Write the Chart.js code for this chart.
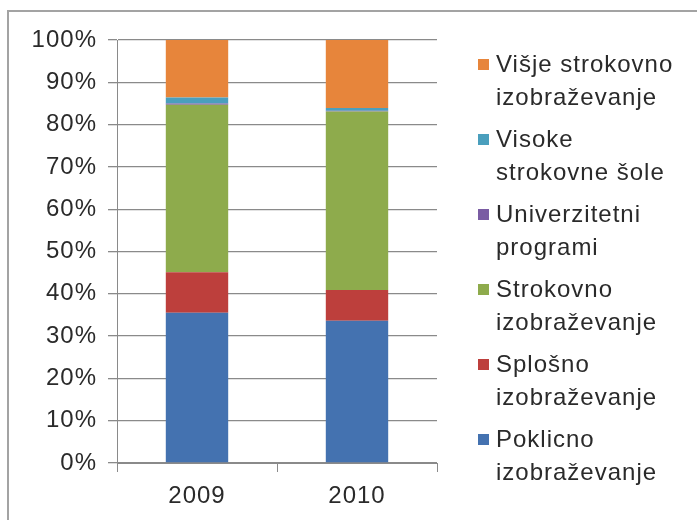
<!DOCTYPE html>
<html>
<head>
<meta charset="utf-8">
<script src="https://cdn.jsdelivr.net/npm/chart.js@4"></script>
<style>
  html, body { margin: 0; padding: 0; background: #fff; }
</style>
</head>
<body>
<canvas id="myChart" width="697" height="520"></canvas>
<script>
const years = ['2009', '2010'];
const poklicno = [35.5, 33.6];
const splosno = [9.6, 7.3];
const strokovno = [39.6, 42.2];
const univerzitetni = [0.3, 0.2];
const visokeSole = [1.4, 0.6];
const visjeStrokovno = [13.6, 16.1];

const fam = '"Liberation Sans", Arial, sans-serif';
const gridc = '#8a8a8a';
const txt = '#2a2a2a';

// legend lines (two lines per entry, top entry first in drawing)
const legendNames = [
  ['Poklicno', 'izobraževanje'],
  ['Splošno', 'izobraževanje'],
  ['Strokovno', 'izobraževanje'],
  ['Univerzitetni', 'programi'],
  ['Visoke', 'strokovne šole'],
  ['Višje strokovno', 'izobraževanje']
];

const spacing = {
  id: 'spacing',
  beforeUpdate(chart) { chart.ctx.letterSpacing = '1px'; },
  beforeDraw(chart) {
    const c = chart.ctx;
    c.save();
    c.strokeStyle = '#a3a3a3';
    c.lineWidth = 2;
    c.beginPath();
    c.moveTo(8, 520);
    c.lineTo(8, 11);
    c.lineTo(697, 11);
    c.stroke();
    c.restore();
    c.letterSpacing = '1px';
  }
};

const sideLegend = {
  id: 'sideLegend',
  afterDraw(chart) {
    const c = chart.ctx;
    const ds = chart.data.datasets;
    c.save();
    c.font = '24px ' + fam;
    c.letterSpacing = '1px';
    c.textBaseline = 'middle';
    c.textAlign = 'left';
    for (let i = ds.length - 1; i >= 0; i--) {
      const row = ds.length - 1 - i;
      const y = 65 + row * 75;
      c.fillStyle = ds[i].backgroundColor;
      c.fillRect(478, y - 6, 11, 11);
      c.fillStyle = txt;
      c.fillText(legendNames[i][0], 496, y);
      c.fillText(legendNames[i][1], 496, y + 33);
    }
    c.restore();
  }
};

new Chart(document.getElementById('myChart'), {
  type: 'bar',
  data: {
    labels: years,
    datasets: [
      { label: 'Poklicno izobraževanje', data: poklicno, backgroundColor: '#4472b0' },
      { label: 'Splošno izobraževanje', data: splosno, backgroundColor: '#bd3f3c' },
      { label: 'Strokovno izobraževanje', data: strokovno, backgroundColor: '#8eab4c' },
      { label: 'Univerzitetni programi', data: univerzitetni, backgroundColor: '#7a5ca3' },
      { label: 'Visoke strokovne šole', data: visokeSole, backgroundColor: '#4a9fbd' },
      { label: 'Višje strokovno izobraževanje', data: visjeStrokovno, backgroundColor: '#e7853b' }
    ]
  },
  options: {
    responsive: false,
    animation: false,
    datasets: {
      bar: { categoryPercentage: 1, barPercentage: 0.39, borderWidth: 0 }
    },
    layout: { padding: { left: 0, right: 260, top: 40, bottom: 0 } },
    scales: {
      x: {
        stacked: true,
        offset: true,
        grid: { drawOnChartArea: false, drawTicks: true, tickLength: 9, color: gridc, offset: true },
        border: { color: gridc, width: 1 },
        ticks: { color: txt, padding: 10, font: { size: 24, family: fam } },
        afterFit: s => { s.height = 57; }
      },
      y: {
        stacked: true,
        min: 0,
        max: 100,
        grid: { color: gridc, tickLength: 9, lineWidth: 1.3 },
        border: { color: gridc, width: 1 },
        ticks: {
          stepSize: 10,
          color: txt,
          padding: 11,
          font: { size: 24, family: fam },
          callback: v => v + '%'
        },
        afterFit: s => { s.width = 117; }
      }
    },
    plugins: {
      legend: { display: false },
      tooltip: { enabled: false }
    }
  },
  plugins: [spacing, sideLegend]
});
</script>
</body>
</html>
